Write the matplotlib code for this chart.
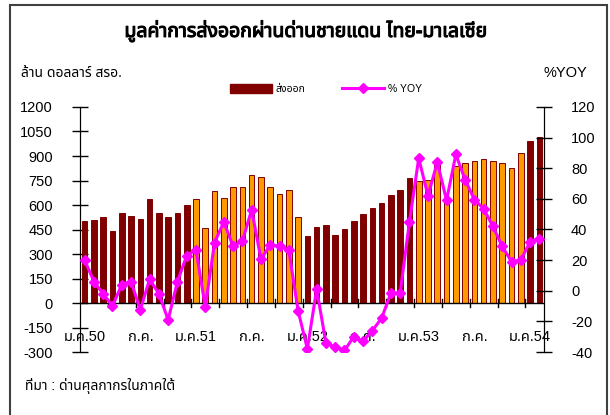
import numpy as np
import matplotlib
matplotlib.use("Agg")
from matplotlib import pyplot as plt
from matplotlib import font_manager
from matplotlib import patheffects
from matplotlib.lines import Line2D
from matplotlib.patches import Patch

# monthly data, Jan 2550 (2007) .. Feb 2554 (2011)
exports = [500, 510, 527, 441, 551, 535, 516, 635, 551, 527, 551, 600,
           635, 457, 686, 643, 710, 710, 786, 769, 710, 667, 694, 524,
           410, 467, 476, 418, 451, 500, 543, 580, 610, 663, 690, 763,
           747, 753, 845, 635, 839, 859, 867, 882, 867, 859, 824, 916,
           994, 1014]
yoy = [20, 6, -2, -10, 4, 6, -12.5, 7.5, -2, -19, 6, 23,
       26.5, -10.5, 31.5, 45, 29, 32.5, 53, 20.5, 30, 29, 26.5, -13,
       -38, 1, -34, -37, -39, -30, -33, -26, -18, -1.5, -1.5, 45,
       86.5, 62, 84, 59, 89, 72.5, 59.5, 53.5, 42, 29, 19, 20,
       32, 34]
xlabels = ["ม.ค.50", "ก.ค.", "ม.ค.51", "ก.ค.", "ม.ค.52", "ก.ค.",
           "ม.ค.53", "ก.ค.", "ม.ค.54"]

plt.rcParams["axes.unicode_minus"] = False

# pick a Thai-capable font
names = set(f.name for f in font_manager.fontManager.ttflist)
thai_font = "DejaVu Sans"
for nm in ["Noto Sans Thai", "Sarabun", "IBM Plex Sans Thai", "Noto Sans Thai UI",
           "Anuphan", "Bai Jamjuree"]:
    if nm in names:
        thai_font = nm
        break
latin = "Liberation Sans"
fam = [latin, thai_font]

dark = "#800000"
orange = "#FF9900"
magenta = "#FF00FF"

n = len(exports)
x = np.arange(n)
# years alternate dark / orange
year = x // 12
face = [dark if y % 2 == 0 else orange for y in year]

fig = plt.figure(figsize=(6.1, 4.15), dpi=100)
ax = fig.add_axes([80 / 610, 63 / 415, 464 / 610, 245 / 415])
ax2 = ax.twinx()

ax.bar(x, exports, width=0.6, color=face, edgecolor=dark, linewidth=0.7, zorder=2)
ax.axhline(0, color="black", linewidth=1.0, zorder=3)
ax.set_xlim(-0.5, n - 0.5)
ax.set_ylim(-300, 1200)
ax.set_yticks(np.arange(-300, 1201, 150))
ax.tick_params(axis="y", direction="inout", length=11, width=1.0, pad=14,
               labelsize=10.5, colors="black")
for lab in ax.get_yticklabels():
    lab.set_family(fam)
ax.set_xticks([])

ax2.plot(x, yoy, color=magenta, linewidth=2.2, marker="D", markersize=5.5,
         markerfacecolor=magenta, markeredgecolor=magenta, zorder=4)
ax2.set_ylim(-40, 120)
ax2.set_yticks(np.arange(-40, 121, 20))
ax2.tick_params(axis="y", direction="inout", length=11, width=1.0, pad=14,
                labelsize=10.5, colors="black")
for lab in ax2.get_yticklabels():
    lab.set_family(fam)

for a in (ax, ax2):
    a.spines["top"].set_visible(False)
    a.spines["bottom"].set_visible(False)
    a.spines["left"].set_color("black")
    a.spines["right"].set_color("black")
    a.patch.set_visible(False)

# category tick marks every 3 months on the zero line
for k in range(3, n, 3):
    ax.plot([k - 0.5, k - 0.5], [-25, 25], color="black", linewidth=1.0, zorder=3,
            clip_on=False)

# category labels at the bottom of the plot area
for i, lab in enumerate(xlabels):
    ax.text(i * 6, -210, lab, ha="center", va="center", fontsize=10.5,
            family=fam, zorder=5)

fig.text(306 / 610, 1 - 31 / 415, "มูลค่าการส่งออกผ่านด่านชายแดน ไทย-มาเลเซีย",
         ha="center", va="center", fontsize=14, fontweight="bold", family=fam,
         path_effects=[patheffects.withStroke(linewidth=0.8, foreground="black")])
fig.text(21 / 610, 1 - 73 / 415, "ล้าน ดอลลาร์ สรอ.", ha="left", va="center",
         fontsize=10, family=fam)
fig.text(587 / 610, 1 - 73 / 415, "%YOY", ha="right", va="center",
         fontsize=10.5, family=fam)
fig.text(25 / 610, 1 - 386 / 415, "ที่มา : ด่านศุลกากรในภาคใต้", ha="left",
         va="center", fontsize=10, family=fam)

handles = [Patch(facecolor=dark, edgecolor=dark),
           Line2D([], [], color=magenta, linewidth=2.2, marker="D", markersize=5.5)]
fig.legend(handles, ["ส่งออก", "% YOY"], loc="center", ncol=2,
           bbox_to_anchor=(326 / 610, 1 - 89 / 415), frameon=False,
           prop={"family": fam, "size": 7.5}, handlelength=4.0,
           handleheight=1.0, columnspacing=3.5, handletextpad=0.4)

# outer frame
frame = plt.Rectangle((10 / 610, -0.02), 597 / 610, 1 - 5 / 415 + 0.02,
                      transform=fig.transFigure, fill=False, edgecolor="#404040",
                      linewidth=1.5)
fig.add_artist(frame)

fig.savefig("out.png")
